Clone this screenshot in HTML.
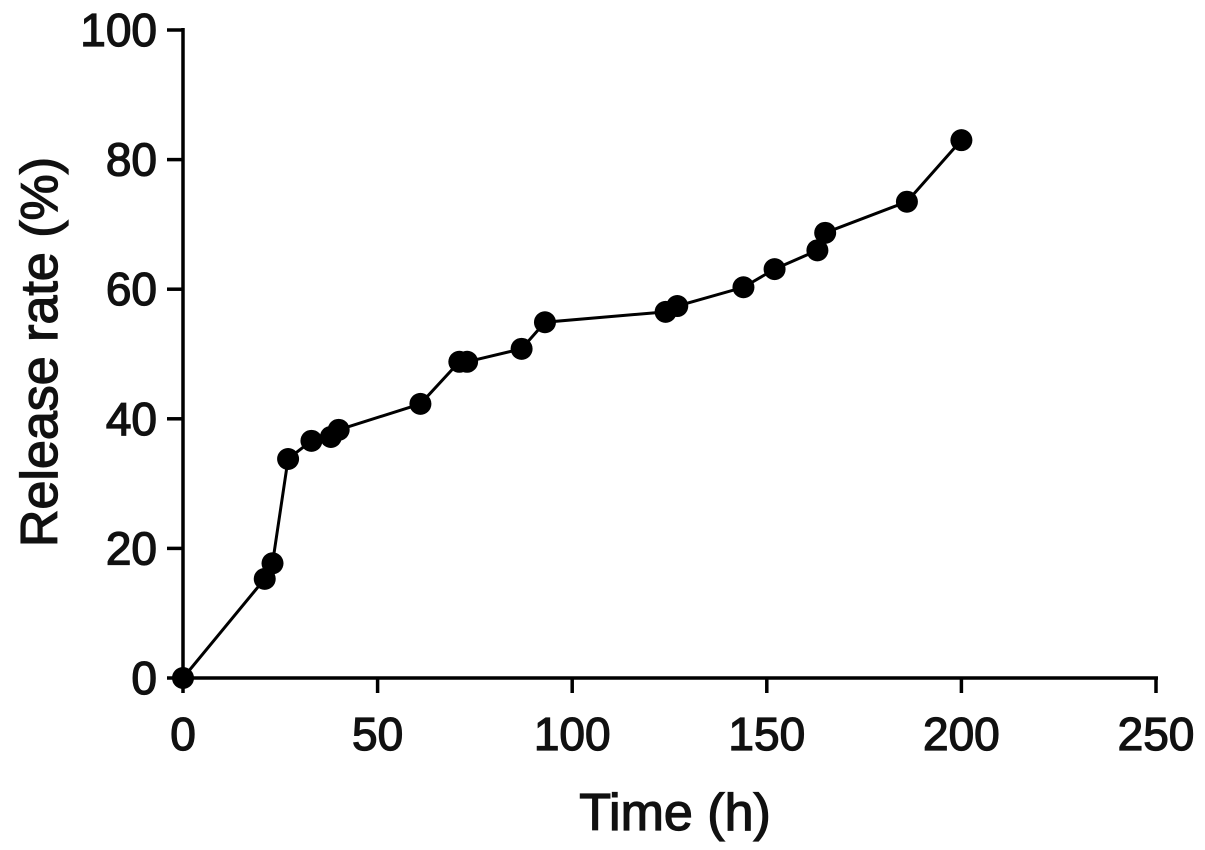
<!DOCTYPE html>
<html><head><meta charset="utf-8"><style>
html,body{margin:0;padding:0;background:#fff;}
svg{display:block;font-family:"Liberation Sans",Arial,sans-serif;}
</style></head><body>
<svg id="chart" width="1205" height="850" viewBox="0 0 1205 850"></svg>
<script>
const timeValues=[0,21,23,27,33,38,40,61,71,73,87,93,124,127,144,152,163,165,186,200];
const releaseValues=[0,15.3,17.7,33.8,36.6,37.2,38.3,42.3,48.8,48.8,50.8,54.9,56.5,57.4,60.3,63.1,66,68.7,73.5,83];
const xTickLabels=[0,50,100,150,200,250];
const yTickLabels=[0,20,40,60,80,100];

const NS="http://www.w3.org/2000/svg";
const svg=document.getElementById('chart');
const X0=183,X1=1156,Y0=678,Y1=30;
const xs=v=>X0+(v/250)*(X1-X0);
const ys=v=>Y0-(v/100)*(Y0-Y1);
function mk(tag,attrs,parent){const e=document.createElementNS(NS,tag);for(const k in attrs)e.setAttribute(k,attrs[k]);(parent||svg).appendChild(e);return e;}
const txtStyle={fill:'#111',stroke:'#111','stroke-width':1.3};

const axes=mk('g',{stroke:'#000','stroke-width':3.5,fill:'none'});


const xa=mk('line',{x1:X0-2,y1:Y0,x2:X1+2,y2:Y0},axes);


const ya=mk('line',{x1:X0,y1:Y0+2,x2:X0,y2:Y1-2},axes);



xTickLabels.forEach(v=>{
  const t=mk('line',{x1:xs(v),y1:Y0,x2:xs(v),y2:Y0+15},axes);
  
  
  const l=mk('text',Object.assign({x:xs(v),y:Y0+72,'text-anchor':'middle','font-size':46},txtStyle));
  l.textContent=v;
  
  
});
yTickLabels.forEach(v=>{
  const t=mk('line',{x1:X0-16,y1:ys(v),x2:X0,y2:ys(v)},axes);
  
  
  const l=mk('text',Object.assign({x:X0-26,y:ys(v)+16,'text-anchor':'end','font-size':46},txtStyle));
  l.textContent=v;
  
  
});

const xt=mk('text',Object.assign({x:675,y:830,'text-anchor':'middle','font-size':52},txtStyle));
xt.textContent='Time (h)';


const yt=mk('text',Object.assign({x:0,y:0,transform:'translate(57,352) rotate(-90)','text-anchor':'middle','font-size':52},txtStyle));
yt.textContent='Release rate (%)';



const pts=timeValues.map((t,i)=>xs(t)+','+ys(releaseValues[i])).join(' ');
const line=mk('polyline',{points:pts,fill:'none',stroke:'#000','stroke-width':3});


timeValues.forEach((t,i)=>{
  const c=mk('circle',{cx:xs(t),cy:ys(releaseValues[i]),r:11,fill:'#000'});
  
  
});
</script>
</body></html>
